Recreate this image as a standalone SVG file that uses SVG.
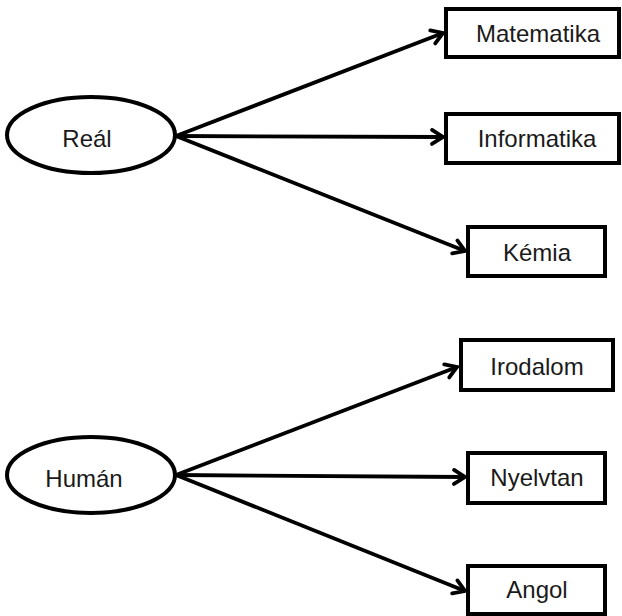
<svg xmlns="http://www.w3.org/2000/svg" width="622" height="616" viewBox="0 0 622 616">
<style>
.node{fill:#fff;stroke:#000;stroke-width:4}
.lbl{font-family:"Liberation Sans",Arial,sans-serif;font-size:24px;fill:#1a1a1a;text-anchor:middle}
.edge{stroke:#000;stroke-width:3.8;fill:none;marker-end:url(#arr)}
</style>
<defs>
<marker id="arr" markerUnits="userSpaceOnUse" markerWidth="20" markerHeight="20" viewBox="-14 -10 18 20" refX="0" refY="0" orient="auto">
<path d="M-11,-7 L0,0 L-11,7" fill="none" stroke="#000" stroke-width="3.8" stroke-linecap="round" stroke-linejoin="miter"/>
</marker>
</defs>
<rect width="622" height="616" fill="#fff"/>
<g id="connectors">
<line class="edge" x1="176" y1="136" x2="443" y2="33"/>
<line class="edge" x1="176" y1="136" x2="443" y2="137"/>
<line class="edge" x1="176" y1="136" x2="465" y2="251"/>
<line class="edge" x1="176" y1="475" x2="457" y2="367"/>
<line class="edge" x1="176" y1="475" x2="465" y2="477"/>
<line class="edge" x1="176" y1="475" x2="465" y2="591"/>
</g>
<g id="real">
<ellipse class="node" cx="91" cy="135" rx="84" ry="38"/>
<text class="lbl" x="87" y="147">Reál</text>
</g>
<g id="matematika">
<rect class="node" x="446" y="9" width="173" height="48"/>
<text class="lbl" x="538" y="42">Matematika</text>
</g>
<g id="informatika">
<rect class="node" x="446" y="114" width="173" height="49"/>
<text class="lbl" x="537" y="147">Informatika</text>
</g>
<g id="kemia">
<rect class="node" x="468" y="227" width="137" height="49"/>
<text class="lbl" x="537" y="261">Kémia</text>
</g>
<g id="human">
<ellipse class="node" cx="91" cy="475" rx="84" ry="38"/>
<text class="lbl" x="84" y="487">Humán</text>
</g>
<g id="irodalom">
<rect class="node" x="461" y="340" width="152" height="50"/>
<text class="lbl" x="537" y="375">Irodalom</text>
</g>
<g id="nyelvtan">
<rect class="node" x="468" y="453" width="137" height="50"/>
<text class="lbl" x="537" y="486">Nyelvtan</text>
</g>
<g id="angol">
<rect class="node" x="468" y="566" width="137" height="48"/>
<text class="lbl" x="537" y="598">Angol</text>
</g>
</svg>
